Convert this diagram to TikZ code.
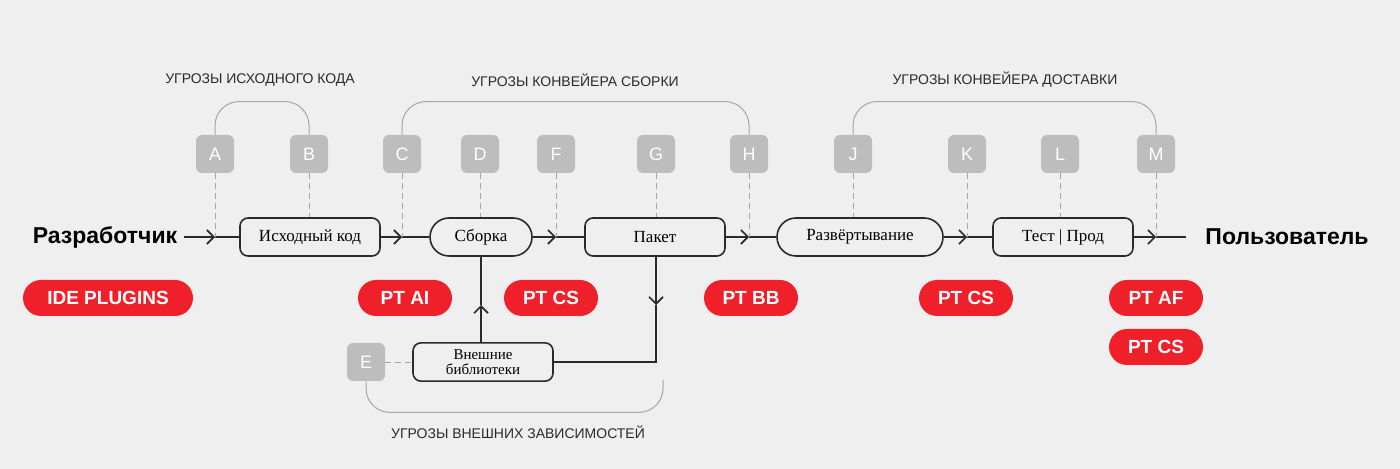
\documentclass[tikz,border=0pt]{standalone}
\usepackage{fontspec}
\setmainfont{Liberation Serif}
\setsansfont{Liberation Sans}
\usetikzlibrary{positioning, arrows.meta}
\definecolor{bg}{HTML}{EFEFEF}
\definecolor{threat}{HTML}{BDBDBD}
\definecolor{ptred}{HTML}{F0202A}
\definecolor{ink}{HTML}{2A2A2A}

\begin{document}
\begin{tikzpicture}[x=0.5pt, y=-0.5pt,
    stage/.style={draw=ink, line width=0.8pt, rounded corners=4pt, minimum width=70pt, minimum height=19pt, font=\fontsize{8.5}{9}\selectfont},
    roundstage/.style={stage, rounded corners=9.5pt},
    letter/.style={fill=threat, rounded corners=3pt, minimum size=19pt, text=white, font=\sffamily\fontsize{9}{10}\selectfont},
    tool/.style={fill=ptred, rounded corners=9pt, minimum height=18pt, text=white, font=\sffamily\bfseries\fontsize{9.5}{10}\selectfont},
    actor/.style={font=\sffamily\bfseries\fontsize{11.5}{12}\selectfont},
    group/.style={font=\sffamily\fontsize{7}{8}\selectfont, text=ink},
    flow/.style={draw=ink, line width=0.8pt},
    tip/.style={flow, -{Straight Barb[length=3.5pt, width=7pt]}},
    hint/.style={draw=gray!70, densely dashed, line width=0.4pt},
    brace/.style={draw=gray!70, line width=0.5pt, rounded corners=12pt}]
    \fill[bg] (0,0) rectangle (1400,469);

    % actors and stages
    \node[actor] (dev) at (105,237) {Разработчик};
    \node[actor] (user) at (1287,237) {Пользователь};
    \node[stage, minimum width=70pt] (src) at (310,237) {Исходный код};
    \node[roundstage, minimum width=51pt] (build) at (481,237) {Сборка};
    \node[stage] (pkg) at (655,237) {Пакет};
    \node[roundstage, minimum width=83pt] (deploy) at (860,237) {Развёртывание};
    \node[stage] (prod) at (1063,237) {Тест | Прод};
    \node[stage, align=center, font=\fontsize{7.5}{7.5}\selectfont, minimum height=18.5pt] (libs) at (483,362) {Внешние\\библиотеки};

    % threat markers
    \foreach \n/\x in {A/215, B/309, C/402, D/480, F/556, G/656, H/749, J/853, K/967, L/1060, M/1156}
        \node[letter] (\n) at (\x,154) {\n};
    \node[letter] (E) at (366,362) {E};

    % junctions on the main line
    \foreach \n in {A, C, F, H, K, M}
        \coordinate (\n x) at (\n |- dev);
    \coordinate (end) at (1186,237);
    \coordinate (up) at (build.south |- 0,305);
    \coordinate (down) at (656,305);
    \coordinate (corner) at (656,362);

    % main flow
    \draw[tip] (dev) -- (Ax); \draw[flow] (Ax) -- (src);
    \draw[tip] (src) -- (Cx); \draw[flow] (Cx) -- (build);
    \draw[tip] (build) -- (Fx); \draw[flow] (Fx) -- (pkg);
    \draw[tip] (pkg) -- (Hx); \draw[flow] (Hx) -- (deploy);
    \draw[tip] (deploy) -- (Kx); \draw[flow] (Kx) -- (prod);
    \draw[tip] (prod) -- (Mx); \draw[flow] (Mx) -- (end);
    \draw[tip] (libs.north -| up) -- (up); \draw[flow] (up) -- (build.south -| up);
    \draw[tip] (pkg.south -| down) -- (down); \draw[flow] (down) -- (corner) -- (libs.east);

    % dashed hints
    \foreach \n in {A, C, F, H, K, M}
        \draw[hint] (\n) -- (\n x);
    \draw[hint] (B) -- (B |- src.north);
    \draw[hint] (D) -- (D |- build.north);
    \draw[hint] (G) -- (G |- pkg.north);
    \draw[hint] (J) -- (J |- deploy.north);
    \draw[hint] (L) -- (L |- prod.north);
    \draw[hint] (E) -- (libs);

    % groups
    \draw[brace] (A.north) -- ++(0,-33) -| (B.north);
    \draw[brace] (C.north) -- ++(0,-33) -| (H.north);
    \draw[brace] (J.north) -- ++(0,-33) -| (M.north);
    \draw[brace] (E.south) -- ++(0,31) -| (663,380);
    \node[group] (gsrc) at (260,80) {УГРОЗЫ ИСХОДНОГО КОДА};
    \node[group] (gbuild) at (575,80) {УГРОЗЫ КОНВЕЙЕРА СБОРКИ};
    \node[group] (gdeliv) at (1005,80) {УГРОЗЫ КОНВЕЙЕРА ДОСТАВКИ};
    \node[group] (gdeps) at (518,432) {УГРОЗЫ ВНЕШНИХ ЗАВИСИМОСТЕЙ};

    % tools
    \node[tool, minimum width=85pt] (ide) at (108,298) {IDE PLUGINS};
    \node[tool, minimum width=47pt] (ptai) at (405,298) {PT AI};
    \node[tool, minimum width=47pt] (ptcs1) at (551,298) {PT CS};
    \node[tool, minimum width=47pt] (ptbb) at (751,298) {PT BB};
    \node[tool, minimum width=47pt] (ptcs2) at (966,298) {PT CS};
    \node[tool, minimum width=47pt] (ptaf) at (1156,298) {PT AF};
    \node[tool, minimum width=47pt] (ptcs3) at (1156,347) {PT CS};
\end{tikzpicture}
\end{document}
